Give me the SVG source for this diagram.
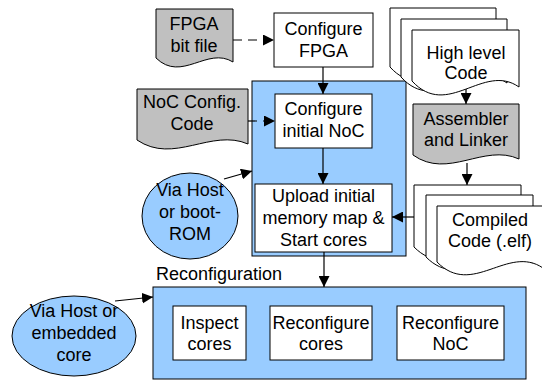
<svg xmlns="http://www.w3.org/2000/svg" width="542" height="381" viewBox="0 0 542 381">
  <defs>
    <marker id="arrow" markerWidth="12" markerHeight="11" refX="11" refY="5.5" orient="auto" markerUnits="userSpaceOnUse">
      <path d="M0,0 L11,5.5 L0,11 Z" fill="#000"/>
    </marker>
    <style>
      text { font-family: "Liberation Sans", Arial, sans-serif; font-size: 18px; fill: #000; text-anchor: middle; }
      .box { fill: #fff; stroke: #000; stroke-width: 1; }
      .panel { fill: #99ccff; stroke: #000; stroke-width: 1; }
      .doc { fill: #c0c0c0; stroke: #000; stroke-width: 1; }
      .page { fill: #fff; stroke: #000; stroke-width: 1; }
      .oval { fill: #99ccff; stroke: #000; stroke-width: 1; }
      .conn { stroke: #000; stroke-width: 1.2; fill: none; marker-end: url(#arrow); }
      .dash { stroke-dasharray: 9 6; }
    </style>
  </defs>
  <rect width="542" height="381" fill="#fff"/>

  <!-- boot-time panel -->
  <g id="boot-panel">
    <rect class="panel" x="252" y="81" width="154" height="175"/>
  </g>

  <!-- reconfiguration panel -->
  <g id="reconfig-panel">
    <rect class="panel" x="153" y="287" width="373" height="92"/>
    <text x="156" y="280" style="text-anchor:start">Reconfiguration</text>
  </g>

  <g id="fpga-bit-file">
    <path class="doc" d="M156,9 H233 V62 C207.3,46 181.7,83 156,58 Z"/>
    <text x="194" y="30">FPGA</text>
    <text x="194" y="52">bit file</text>
  </g>

  <g id="configure-fpga">
    <rect class="box" x="274" y="13" width="99" height="54"/>
    <text x="323.5" y="35">Configure</text>
    <text x="323.5" y="57">FPGA</text>
  </g>

  <g id="noc-config-code">
    <path class="doc" d="M137,89 H248 V144 C211,128 174,165 137,140 Z"/>
    <text x="192" y="108">NoC Config.</text>
    <text x="192" y="130">Code</text>
  </g>

  <g id="configure-noc">
    <rect class="box" x="275" y="94" width="97" height="54"/>
    <text x="323.5" y="115">Configure</text>
    <text x="323.5" y="137">initial NoC</text>
  </g>

  <g id="upload-start">
    <rect class="box" x="255" y="184" width="137" height="68"/>
    <text x="323.5" y="202">Upload initial</text>
    <text x="323.5" y="224">memory map &amp;</text>
    <text x="323.5" y="246">Start cores</text>
  </g>

  <g id="via-host-boot">
    <ellipse class="oval" cx="190" cy="216" rx="48" ry="43"/>
    <text x="190" y="196">Via Host</text>
    <text x="190" y="218">or boot-</text>
    <text x="190" y="240">ROM</text>
  </g>

  <g id="high-level-code">
    <path class="page" d="M390,8 H496 V73 C460.7,48 425.3,106 390,67 Z"/>
    <path class="page" d="M401,19 H507 V83 C471.7,58 436.3,116 401,77 Z"/>
    <path class="page" d="M412,30 H519 V87 C483.3,62 447.7,120 412,81 Z"/>
    <text x="466" y="59">High level</text>
    <text x="466" y="79">Code</text>
  </g>

  <g id="assembler-linker">
    <path class="doc" d="M413,104 H519 V159 C483.7,143 448.3,180 413,155 Z"/>
    <text x="466" y="125">Assembler</text>
    <text x="466" y="146">and Linker</text>
  </g>

  <g id="compiled-code">
    <path class="page" d="M414,185 H521 V253 C485.3,229 449.7,283 414,247 Z"/>
    <path class="page" d="M426,195 H533 V263 C497.3,239 461.7,293 426,257 Z"/>
    <path class="page" d="M437,206 H543 V268 C507.7,244 472.3,298 437,262 Z"/>
    <text x="490" y="226">Compiled</text>
    <text x="490" y="247">Code (.elf)</text>
  </g>

  <g id="via-host-embedded">
    <ellipse class="oval" cx="74" cy="336" rx="62" ry="40"/>
    <text x="74" y="317">Via Host or</text>
    <text x="74" y="339">embedded</text>
    <text x="74" y="361">core</text>
  </g>

  <g id="inspect-cores">
    <rect class="box" x="173" y="306" width="73" height="54"/>
    <text x="209.5" y="329">Inspect</text>
    <text x="209.5" y="350">cores</text>
  </g>

  <g id="reconfigure-cores">
    <rect class="box" x="270" y="306" width="102" height="54"/>
    <text x="321" y="329">Reconfigure</text>
    <text x="321" y="350">cores</text>
  </g>

  <g id="reconfigure-noc">
    <rect class="box" x="397" y="306" width="107" height="54"/>
    <text x="450.5" y="329">Reconfigure</text>
    <text x="450.5" y="350">NoC</text>
  </g>

  <!-- connectors -->
  <g id="connectors">
    <line class="conn dash" x1="233" y1="40" x2="274" y2="40"/>
    <line class="conn" x1="323" y1="67" x2="323" y2="94"/>
    <line class="conn dash" x1="248" y1="121" x2="275" y2="121"/>
    <line class="conn" x1="323" y1="148" x2="323" y2="184"/>
    <line class="conn" x1="224" y1="179" x2="252" y2="171"/>
    <line class="conn" x1="414" y1="217" x2="392" y2="217"/>
    <line class="conn" x1="466" y1="89" x2="466" y2="104"/>
    <line class="conn" x1="467" y1="163" x2="467" y2="185"/>
    <line class="conn" x1="324" y1="252" x2="324" y2="287"/>
    <line class="conn" x1="115" y1="301" x2="153" y2="297"/>
  </g>
</svg>
